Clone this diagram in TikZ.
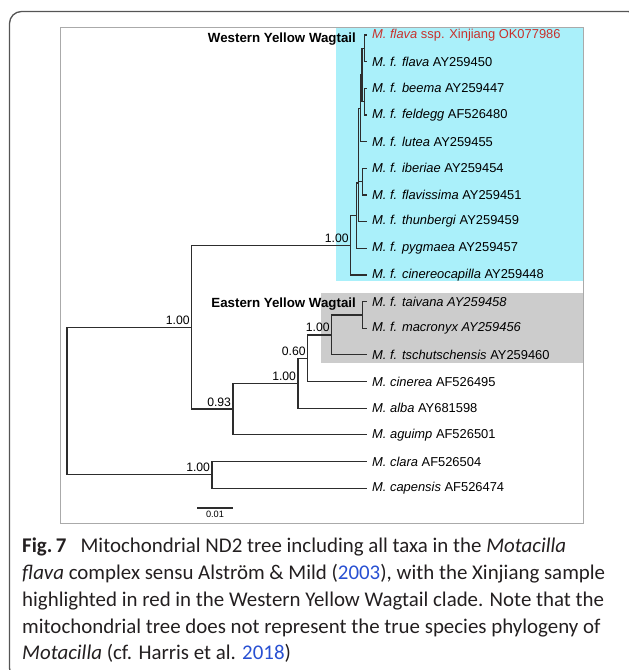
\documentclass[tikz,border=0pt]{standalone}
\usepackage{fontspec}
\setmainfont{Liberation Sans}
\newfontfamily\capfont{Carlito}
\usetikzlibrary{positioning,calc}
\definecolor{Frame}{RGB}{170,170,170}
\definecolor{Box}{RGB}{85,85,85}
\definecolor{Branch}{RGB}{45,45,45}
\definecolor{WestFill}{RGB}{170,240,250}
\definecolor{EastFill}{RGB}{204,204,204}
\definecolor{Sample}{RGB}{200,50,45}
\definecolor{CapText}{RGB}{35,31,32}
\definecolor{CiteBlue}{RGB}{40,80,210}

\begin{document}
\begin{tikzpicture}[
    x=1pt, y=-1pt,
    leaf/.style={anchor=west, inner xsep=5pt, inner ysep=0pt,
      font=\fontsize{12.9}{14}\selectfont},
    boot/.style={anchor=south east, inner xsep=1.8pt, inner ysep=2.6pt,
      font=\fontsize{12.2}{13}\selectfont},
    clade/.style={anchor=east, inner sep=0pt,
      font=\fontsize{13.3}{15}\selectfont\bfseries},
    branch/.style={draw=Branch, line width=1.2pt},
    caption/.style={anchor=north west, inner sep=0pt, align=left, text=CapText,
      font=\capfont\fontsize{20.9}{26.9}\selectfont}
  ]
    \useasboundingbox (0,0) rectangle (629,670);
    % outer panel, cut by the page
    \begin{scope}
      \clip (0,0) rectangle (629,670);
      \draw[Box, line width=1.3pt, rounded corners=12pt] (9.5,11.5) rectangle (640,680);
    \end{scope}

    % clade boxes and frame
    \fill[WestFill] (336,27.5) rectangle (583.5,281);
    \fill[EastFill] (320.7,293) rectangle (583.5,362.7);
    \draw[Frame, line width=0.8pt] (60.5,27.5) rectangle (583.5,523);

    % leaves
    \node[leaf, text=Sample] (xinj) at (367,35.0) {\textit{M. flava} ssp. Xinjiang OK077986};
    \node[leaf] (flava)  at (367,61.7)  {\textit{M. f. flava} AY259450};
    \node[leaf] (beema)  at (367,88.3)  {\textit{M. f. beema} AY259447};
    \node[leaf] (feld)   at (367,115.0) {\textit{M. f. feldegg} AF526480};
    \node[leaf] (lutea)  at (367,141.6) {\textit{M. f. lutea} AY259455};
    \node[leaf] (iber)   at (367,168.3) {\textit{M. f. iberiae} AY259454};
    \node[leaf] (flavis) at (367,194.9) {\textit{M. f. flavissima} AY259451};
    \node[leaf] (thunb)  at (367,221.6) {\textit{M. f. thunbergi} AY259459};
    \node[leaf] (pygm)   at (367,248.2) {\textit{M. f. pygmaea} AY259457};
    \node[leaf] (cinca)  at (367,274.9) {\textit{M. f. cinereocapilla} AY259448};
    \node[leaf] (taiv)   at (367,301.5) {\textit{M. f. taivana AY259458}};
    \node[leaf] (macro)  at (367,328.2) {\textit{M. f. macronyx AY259456}};
    \node[leaf] (tschu)  at (367,354.8) {\textit{M. f. tschutschensis} AY259460};
    \node[leaf] (ciner)  at (367,381.5) {\textit{M. cinerea} AF526495};
    \node[leaf] (alba)   at (367,408.1) {\textit{M. alba} AY681598};
    \node[leaf] (aguimp) at (367,434.8) {\textit{M. aguimp} AF526501};
    \node[leaf] (clara)  at (367,461.4) {\textit{M. clara} AF526504};
    \node[leaf] (capen)  at (367,488.1) {\textit{M. capensis} AF526474};

    % internal nodes
    \coordinate (root) at (67,401);
    \coordinate (nA)   at (191.7,327.2);
    \coordinate (nWest) at (350.7,245.3);
    \coordinate (nW1)  at (356.5,215.7);
    \coordinate (nV)   at (358.5,183);
    \coordinate (nU)   at (360.2,108.3);
    \coordinate (nXY)  at (362,75);
    \coordinate (nX)   at (364.5,48.3);
    \coordinate (nY)   at (364.5,101.7);
    \coordinate (nIF)  at (362.7,181.6);
    \coordinate (nB)   at (233,409);
    \coordinate (nC)   at (298,383.2);
    \coordinate (nD)   at (307.7,358.2);
    \coordinate (nE)   at (331.7,334.9);
    \coordinate (nF)   at (362.7,314.9);
    \coordinate (nOut) at (212,474.8);

    % branches
    \draw[branch] (root) |- (nA);
    \draw[branch] (root) |- (nOut);
    \draw[branch] (nA) |- (nWest);
    \draw[branch] (nA) |- (nB);
    \draw[branch] (nWest) |- (nW1);
    \draw[branch] (nWest) |- (cinca.west);
    \draw[branch] (nW1) |- (nV);
    \draw[branch] (nW1) |- (pygm.west);
    \draw[branch] (nV) |- (nU);
    \draw[branch] (nV) |- (nIF);
    \draw[branch] (nV) |- (thunb.west);
    \draw[branch] (nU) |- (nXY);
    \draw[branch] (nU) |- (lutea.west);
    \draw[branch] (nXY) |- (nX);
    \draw[branch] (nXY) |- (nY);
    \draw[branch] (nX) |- (xinj.west);
    \draw[branch] (nX) |- (flava.west);
    \draw[branch] (nY) |- (beema.west);
    \draw[branch] (nY) |- (feld.west);
    \draw[branch] (nIF) |- (iber.west);
    \draw[branch] (nIF) |- (flavis.west);
    \draw[branch] (nB) |- (nC);
    \draw[branch] (nB) |- (aguimp.west);
    \draw[branch] (nC) |- (nD);
    \draw[branch] (nC) |- (alba.west);
    \draw[branch] (nD) |- (nE);
    \draw[branch] (nD) |- (ciner.west);
    \draw[branch] (nE) |- (nF);
    \draw[branch] (nE) |- (tschu.west);
    \draw[branch] (nF) |- (taiv.west);
    \draw[branch] (nF) |- (macro.west);
    \draw[branch] (nOut) |- (clara.west);
    \draw[branch] (nOut) |- (capen.west);

    % support values
    \node[boot] (bA) at (nA) {1.00};
    \node[boot] (bWest) at (nWest) {1.00};
    \node[boot] (bB) at (nB) {0.93};
    \node[boot] (bC) at (nC) {1.00};
    \node[boot] (bD) at (nD) {0.60};
    \node[boot] (bE) at (nE) {1.00};
    \node[boot] (bOut) at (nOut) {1.00};

    % clade names
    \node[clade] (west) at (356,39.5) {Western Yellow Wagtail};
    \node[clade] (east) at (356,304) {Eastern Yellow Wagtail};

    % scale bar
    \coordinate (sbL) at (197,508);
    \coordinate (sbR) at (233,508);
    \draw[branch] (sbL) -- (sbR)
      node[midway, below=2pt, inner sep=0pt, font=\fontsize{9.2}{10}\selectfont] (sbtext) {0.01};

    % caption
    \node[caption] (cap) at (22,537.5) {%
      {\bfseries Fig.\,7}\hspace{0.45em} Mitochondrial ND2 tree including all taxa in the \textit{Motacilla}\\
      \textit{flava} complex sensu Alström \& Mild (\textcolor{CiteBlue}{2003}), with the Xinjiang sample\\
      highlighted in red in the Western Yellow Wagtail clade. Note that the\\
      mitochondrial tree does not represent the true species phylogeny of\\
      \textit{Motacilla} (cf. Harris et al. \textcolor{CiteBlue}{2018})};
  \end{tikzpicture}
\end{document}
